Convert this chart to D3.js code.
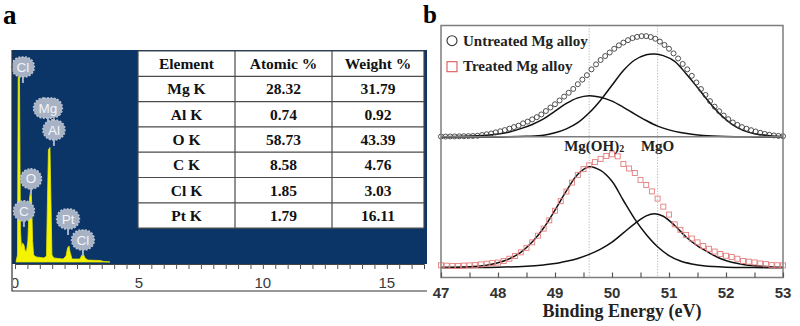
<!DOCTYPE html>
<html><head><meta charset="utf-8">
<script src="https://cdn.jsdelivr.net/npm/d3@7"></script>
<style>html,body{margin:0;padding:0;background:#fff;} svg{display:block;}</style>
</head><body>
<svg id="fig" width="800" height="326"></svg>
<script>
// ---------- Panel a: EDS spectrum ----------
const edsKeV = [0.04,0.10,0.13,0.18,0.22,0.26,0.30,0.36,0.40,0.46,0.52,0.58,0.62,0.665,0.71,0.75,0.85,1.17,1.27,1.31,1.35,1.41,1.45,1.49,1.57,1.94,2.06,2.12,2.18,2.22,2.30,2.62,2.70,2.76,2.82,2.94,3.43,3.59,3.83];
const edsCounts = [0,3.3,87,88,15,6.6,9,8,5.7,4.7,10,29,33,31,10,3.3,2.4,1.9,2.8,29,53,54,29,3.3,1.9,1.4,2.8,6.6,7.5,4.7,1.4,1.4,3.3,3.8,1.9,0.9,0.7,0.2,0];
const peakNames = ['Cl','Mg','Al','O','C','Pt','Cl'];
const peakKeV   = [0.32,1.33,1.57,0.645,0.36,2.14,2.74];
const peakLevel = [92,72.6,62.3,39.2,24.1,20.3,10.4];
const edsTickLabels = [0,5,10,15];

// ---------- Panel a: composition table ----------
const tableHeader = ['Element','Atomic %','Weight %'];
const elements  = ['Mg K','Al K','O K','C K','Cl K','Pt K'];
const atomicPct = ['28.32','0.74','58.73','8.58','1.85','1.79'];
const weightPct = ['31.79','0.92','43.39','4.76','3.03','16.11'];

// ---------- Panel b: Mg 2p spectra ----------
const untreatedEV = [47.00,47.08,47.16,47.24,47.32,47.40,47.48,47.56,47.64,47.72,47.80,47.88,47.96,48.04,48.12,48.20,48.28,48.36,48.44,48.52,48.60,48.68,48.76,48.84,48.92,49.00,49.08,49.16,49.24,49.32,49.40,49.48,49.56,49.64,49.72,49.80,49.88,49.96,50.04,50.12,50.20,50.28,50.36,50.44,50.52,50.60,50.68,50.76,50.84,50.92,51.00,51.08,51.16,51.24,51.32,51.40,51.48,51.56,51.64,51.72,51.80,51.88,51.96,52.04,52.12,52.20,52.28,52.36,52.44,52.52,52.60,52.68,52.76,52.84,52.92,53.00];
const untreatedI  = [0.4,0.4,0.5,0.5,0.6,0.7,0.8,0.9,1.1,1.8,2.5,3.2,4.2,5.2,6.3,7.6,9.0,10.3,12.4,14.0,16.0,18.0,20.5,23.6,26.8,29.8,33.2,36.7,40.2,43.7,48.0,52.2,56.2,61.5,66.0,70.0,73.6,76.8,80.2,83.3,85.8,88.0,89.9,91.0,91.7,91.7,90.9,89.3,86.7,83.7,80.2,76.0,71.4,66.4,61.5,55.6,49.6,43.6,38.2,32.6,27.6,23.4,19.5,16.2,13.2,11.0,9.0,7.5,6.2,5.0,3.8,2.8,2.0,1.4,1.0,0.7];

const untreatedOHEV = [47.0,47.4,47.8,48.0,48.2,48.4,48.6,48.8,49.0,49.2,49.4,49.6,49.8,50.0,50.2,50.4,50.6,50.8,51.0,51.2,51.4,51.6,52.0,52.5,53.0];
const untreatedOHI  = [0.2,0.6,1.6,2.8,4.6,7.6,11.4,16.4,23.5,30.5,35.6,37.6,36.2,32.6,27.0,20.8,15.0,9.9,6.5,4.0,2.4,1.3,0.4,0.1,0];
const untreatedOEV  = [47.0,48.0,48.5,48.8,49.0,49.2,49.4,49.6,49.8,50.0,50.2,50.4,50.6,50.75,50.9,51.1,51.3,51.5,51.7,51.9,52.1,52.3,52.5,52.8,53.0];
const untreatedOI   = [0,0.1,0.6,1.5,3.8,7.4,13.0,22.0,33.5,47.0,60.5,70.0,74.8,75.5,74.0,68.8,57.5,45.0,32.0,20.5,11.8,6.0,3.0,1.0,0.4];

const treatedEV = [47.0,47.1,47.2,47.3,47.4,47.5,47.6,47.7,47.8,47.9,48.0,48.1,48.2,48.3,48.4,48.5,48.6,48.7,48.8,48.9,49.0,49.1,49.2,49.3,49.4,49.5,49.6,49.7,49.8,49.9,50.0,50.1,50.2,50.3,50.4,50.5,50.6,50.7,50.8,50.9,51.0,51.1,51.2,51.3,51.4,51.5,51.6,51.7,51.8,51.9,52.0,52.1,52.2,52.3,52.4,52.5,52.6,52.7,52.8,52.9,53.0];
const treatedI  = [1.9,1.6,1.4,1.3,1.6,1.8,2.0,2.6,3.1,3.6,4.0,5.2,7.0,9.2,12.0,15.5,19.8,25.0,30.5,37.0,44.5,52.0,59.5,66.5,72.5,77.0,80.0,82.5,85.0,87.3,88.6,87.0,81.0,77.5,74.0,68.6,64.6,59.6,54.0,47.7,41.5,33.9,29.6,25.6,22.8,19.8,17.0,14.8,12.6,10.7,9.3,8.3,7.0,5.2,4.7,4.1,3.3,2.8,2.0,1.9,1.8];

const treatedOHEV = [47.0,47.5,47.8,48.0,48.2,48.4,48.6,48.8,49.0,49.2,49.4,49.6,49.8,50.0,50.2,50.4,50.6,50.8,51.0,51.2,51.4,51.6,52.0,52.5,53.0];
const treatedOHI  = [0.2,0.7,2.0,3.8,7.0,12.0,20.0,31.0,45.0,60.0,73.0,78.9,76.0,67.5,52.5,38.0,26.0,16.4,9.5,5.2,2.9,1.5,0.4,0.1,0];
const treatedOEV  = [47.0,48.0,48.5,48.8,49.0,49.2,49.4,49.6,49.8,50.0,50.2,50.4,50.6,50.75,50.9,51.1,51.3,51.5,51.7,51.9,52.1,52.3,52.5,52.8,53.0];
const treatedOI   = [0.1,0.4,1.2,2.2,3.2,5.0,7.2,10.4,14.5,20.0,27.2,34.5,40.5,42.2,40.2,33.0,24.0,17.0,11.8,7.2,4.2,2.5,1.5,0.6,0.3];

const refLines   = [49.6, 50.8];
const refLabels  = ['Mg(OH)', 'MgO'];
const beTicks    = [47,48,49,50,51,52,53];
const legendText = ['Untreated Mg alloy', 'Treated Mg alloy'];

const serif = "'Liberation Serif','Times New Roman',serif";
const sans  = "'Liberation Sans',Arial,sans-serif";
const svg = d3.select('#fig');

// ================= Panel a =================
svg.append('text').attr('x', 3).attr('y', 24).text('a')
  .attr('font-family', serif).attr('font-weight', 'bold').attr('font-size', 27);

const aLeft = 12, aRight = 427, aTop = 50, aPlotBottom = 264, aBottom = 291;
const xEds = d3.scaleLinear().domain([0, 16.5]).range([15, 424]);
const yEds = d3.scaleLinear().domain([0, 100]).range([262, 50]);

svg.append('rect').attr('x', aLeft).attr('y', aTop)
  .attr('width', aRight - aLeft).attr('height', aPlotBottom - aTop).attr('fill', '#0b3567');

const clipA = svg.append('clipPath').attr('id', 'clipA');
clipA.append('rect').attr('x', aLeft + 1).attr('y', aTop).attr('width', aRight - aLeft).attr('height', aBottom - aTop);

const edsData = edsKeV.map((k, i) => [k, edsCounts[i]]);
svg.append('path').datum(edsData)
  .attr('clip-path', 'url(#clipA)')
  .attr('d', d3.area().x(d => xEds(d[0])).y0(yEds(0)).y1(d => yEds(d[1])))
  .attr('fill', '#f4f400').attr('stroke', '#e6e600').attr('stroke-width', 0.8);

// element badges
const badgeColor = '#a7b2c5';
const badges = svg.append('g');
peakNames.forEach((name, i) => {
  const cx = xEds(peakKeV[i]), cy = yEds(peakLevel[i]);
  const g = badges.append('g');
  g.append('line').attr('x1', cx).attr('x2', cx).attr('y1', cy + 9).attr('y2', cy + 16)
    .attr('stroke', badgeColor).attr('stroke-width', 2);
  const t = g.append('text').attr('x', cx).attr('y', cy + 4.6).attr('text-anchor', 'middle')
    .attr('font-family', sans).attr('font-size', 13.5).attr('fill', '#f2f4f8').text(name);
  const w = Math.max(21, t.node().getComputedTextLength() + 10);
  g.insert('rect', 'text').attr('x', cx - w / 2).attr('y', cy - 10).attr('width', w).attr('height', 20)
    .attr('rx', 10).attr('fill', badgeColor)
    .attr('stroke', '#b9c2d2').attr('stroke-width', 1.6).attr('stroke-dasharray', '2,1.4');
});

// table
const tX = [138, 235, 332, 424], tTop = 51, rowH = 25.3;
const rows = [tableHeader].concat(elements.map((e, i) => [e, atomicPct[i], weightPct[i]]));
const tbl = svg.append('g');
tbl.append('rect').attr('x', tX[0]).attr('y', tTop).attr('width', tX[3] - tX[0])
  .attr('height', rowH * rows.length).attr('fill', '#fff');
rows.forEach((r, ri) => {
  r.forEach((cell, ci) => {
    tbl.append('text').attr('x', (tX[ci] + tX[ci + 1]) / 2).attr('y', tTop + rowH * ri + rowH / 2 + 5.5)
      .attr('text-anchor', 'middle').attr('font-family', serif).attr('font-weight', 'bold')
      .attr('font-size', 15.5).attr('fill', '#111').text(cell);
  });
});
for (let ri = 0; ri <= rows.length; ri++) {
  tbl.append('line').attr('x1', tX[0]).attr('x2', tX[3]).attr('y1', tTop + rowH * ri).attr('y2', tTop + rowH * ri)
    .attr('stroke', '#4a4a4a').attr('stroke-width', 1.2);
}
tX.forEach(x => tbl.append('line').attr('x1', x).attr('x2', x).attr('y1', tTop).attr('y2', tTop + rowH * rows.length)
  .attr('stroke', '#4a4a4a').attr('stroke-width', 1.2));

// EDS energy axis
const edsAxis = svg.append('g').attr('transform', `translate(0,${aPlotBottom})`)
  .call(d3.axisBottom(xEds).tickValues(d3.range(0, 16.5, 0.5)).tickSize(5).tickFormat(''));
edsAxis.select('.domain').attr('stroke', '#444');
edsAxis.selectAll('.tick line').attr('stroke', '#555');
svg.append('g').attr('clip-path', 'url(#clipA)').selectAll('text').data(edsTickLabels).join('text')
  .attr('x', d => xEds(d)).attr('y', 288).attr('text-anchor', 'middle')
  .attr('font-family', sans).attr('font-size', 15).attr('fill', '#3a3a3a').text(d => d);
svg.append('path').attr('d', `M${aLeft},${aTop}V${aBottom}H${aRight}`)
  .attr('fill', 'none').attr('stroke', '#333').attr('stroke-width', 1.2);

// ================= Panel b =================
svg.append('text').attr('x', 423).attr('y', 23).text('b')
  .attr('font-family', serif).attr('font-weight', 'bold').attr('font-size', 25);

const bL = 441, bR = 783, bT = 25.5, bMid = 136.8, bB = 277.5;
const xBE = d3.scaleLinear().domain([47, 53]).range([bL, bR]);
const yTop = d3.scaleLinear().domain([0, 100]).range([137, 27]);
const yBot = d3.scaleLinear().domain([0, 100]).range([267.7, 139.7]);

// reference positions
svg.append('g').selectAll('line').data(refLines).join('line')
  .attr('x1', d => xBE(d)).attr('x2', d => xBE(d)).attr('y1', bT).attr('y2', bB)
  .attr('stroke', '#b5b5b5').attr('stroke-width', 1).attr('stroke-dasharray', '1.2,1.6');

const fitLine = y => d3.line().x(d => xBE(d[0])).y(d => y(d[1])).curve(d3.curveCatmullRom.alpha(0.5));
const zip = (a, b) => a.map((v, i) => [v, b[i]]);
[[untreatedOHEV, untreatedOHI, yTop], [untreatedOEV, untreatedOI, yTop],
 [treatedOHEV, treatedOHI, yBot], [treatedOEV, treatedOI, yBot]].forEach(([ev, I, y]) => {
  svg.append('path').datum(zip(ev, I)).attr('d', fitLine(y))
    .attr('fill', 'none').attr('stroke', '#111').attr('stroke-width', 1.5);
});

// measured points
svg.append('g').selectAll('circle').data(zip(untreatedEV, untreatedI)).join('circle')
  .attr('cx', d => xBE(d[0])).attr('cy', d => yTop(d[1])).attr('r', 2.5)
  .attr('fill', 'none').attr('stroke', '#3c3c3c').attr('stroke-width', 0.9);
svg.append('g').selectAll('rect').data(zip(treatedEV, treatedI)).join('rect')
  .attr('x', d => xBE(d[0]) - 2.5).attr('y', d => yBot(d[1]) - 2.5).attr('width', 5).attr('height', 5)
  .attr('fill', 'none').attr('stroke', '#e57d7d').attr('stroke-width', 0.9);

// peak labels
const lbl = svg.append('g').attr('font-family', serif).attr('font-weight', 'bold').attr('font-size', 15).attr('fill', '#222');
const t1 = lbl.append('text').attr('x', xBE(refLines[0]) + 5).attr('y', 151).attr('text-anchor', 'middle');
t1.append('tspan').text(refLabels[0]);
t1.append('tspan').attr('font-size', 10).attr('dy', 1).text('2');
lbl.append('text').attr('x', xBE(refLines[1])).attr('y', 151).attr('text-anchor', 'middle').text(refLabels[1]);

// frames
svg.append('rect').attr('x', bL).attr('y', bT).attr('width', bR - bL).attr('height', bB - bT)
  .attr('fill', 'none').attr('stroke', '#7d7d7d').attr('stroke-width', 1.5);
svg.append('line').attr('x1', bL).attr('x2', bR).attr('y1', bMid).attr('y2', bMid)
  .attr('stroke', '#7d7d7d').attr('stroke-width', 1.5);

// binding-energy axis, ticks pointing inward
const minor = svg.append('g').attr('transform', `translate(0,${bB})`)
  .call(d3.axisBottom(xBE).tickValues(d3.range(47, 53.01, 0.5)).tickSize(-5).tickFormat(''));
minor.select('.domain').remove();
minor.selectAll('.tick line').attr('stroke', '#555').attr('stroke-width', 1.2);
svg.append('g').selectAll('text').data(beTicks).join('text')
  .attr('x', d => xBE(d)).attr('y', 298).attr('text-anchor', 'middle')
  .attr('font-family', sans).attr('font-weight', 'bold').attr('font-size', 15).attr('fill', '#333').text(d => d);
svg.append('text').attr('x', 622).attr('y', 317).attr('text-anchor', 'middle')
  .attr('font-family', serif).attr('font-weight', 'bold').attr('font-size', 18).attr('fill', '#222')
  .text('Binding Energy (eV)');

// legend
const lg = svg.append('g').attr('font-family', serif).attr('font-weight', 'bold').attr('font-size', 15).attr('fill', '#222');
lg.append('circle').attr('cx', 452).attr('cy', 40.7).attr('r', 5).attr('fill', 'none').attr('stroke', '#333').attr('stroke-width', 1.1);
lg.append('text').attr('x', 463).attr('y', 45.7).text(legendText[0]);
lg.append('rect').attr('x', 447).attr('y', 61.7).attr('width', 10).attr('height', 10).attr('fill', 'none').attr('stroke', '#d95a5a').attr('stroke-width', 1.1);
lg.append('text').attr('x', 463).attr('y', 70.7).text(legendText[1]);
</script>
</body></html>
